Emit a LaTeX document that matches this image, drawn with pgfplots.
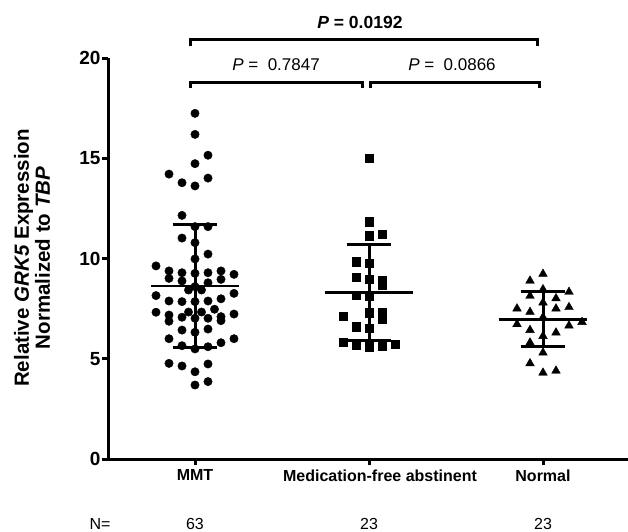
\documentclass[border=0pt]{standalone}
\usepackage{pgfplots}
\pgfplotsset{compat=1.18}
\usepackage{pgfplotstable}
\usepackage{fontspec}
\setmainfont{Liberation Sans}

% column index k (offset of the dot from the group centre) and value
\pgfplotstableread{
k v
0 17.24
0 16.19
1 15.15
0 14.73
-2 14.21
1 14.01
-1 13.78
0 13.62
-1 12.15
0 11.59
1 11.59
-1 11.02
0 10.79
1 10.22
0 9.98
-3 9.63
-2 9.38
-1 9.29
0 9.26
1 9.29
2 9.38
3 9.21
-2 9.01
-1 8.88
1 8.79
2 8.96
-0.5 8.43
0.5 8.43
-3 8.15
3 8.26
-2 7.88
-1 7.85
0 7.85
1 7.88
2 7.99
-3 7.32
-2 7.18
-0.5 7.33
0.5 7.33
1.5 7.47
3 7.23
-1 7.07
0 7.02
1 7.02
2 7.10
-2 6.87
2 6.90
-1 6.43
0 6.32
1 6.48
-2 6.00
3 6.00
2 5.80
-1 5.65
0 5.49
1 5.60
-2 4.77
-1 4.64
1 4.74
0 4.35
0 3.69
1 3.86
0 8.60
}\mmt

\pgfplotstableread{
k v
0 15.01
0 11.84
0 11.14
1 11.22
-1 9.84
0 9.76
-1 9.06
0 8.96
1 8.93
1 8.66
-1 8.16
0 8.13
-2 7.13
0 7.30
1 7.32
1 7.00
-1 6.60
0 6.52
-2 5.82
-1 5.70
0 5.60
1 5.65
2 5.74
}\abstinent

\pgfplotstableread{
k v
0 9.23
0 8.46
0 7.80
0 7.07
0 6.13
0 5.30
0 4.30
-1 8.89
-1 8.13
-1 7.33
-1 6.43
-1 5.80
-1 4.77
-2 7.50
-2 6.72
1 8.01
1 7.50
1 6.30
1 4.40
2 8.33
2 7.57
2 6.65
3 6.83
}\normal

\begin{document}
\begin{tikzpicture}
\useasboundingbox (-108pt,-72pt) rectangle (520pt,459pt);
\begin{axis}[
    at={(0,0)}, anchor=south west,
    scale only axis,
    width=522pt, height=401pt,
    xmin=0.5, xmax=3.5,
    ymin=0, ymax=20,
    axis x line=bottom, axis y line=left,
    axis line style={line width=3pt, -},
    xtick={1,2,3},
    xticklabels={MMT, \hspace*{22pt}Medication-free abstinent, Normal},
    ytick={0,5,10,15,20},
    tick align=outside,
    major tick length=6pt,
    tick style={line width=3pt, black},
    /pgf/number format/assume math mode=true,
    yticklabel style={font=\fontsize{19}{19}\selectfont\bfseries, xshift=2pt},
    xticklabel style={font=\fontsize{16}{16}\selectfont\bfseries, yshift=-1pt},
    clip=false,
]
\addplot[only marks, mark=*, mark size=4.2pt, color=black]
    table[x expr=1+\thisrow{k}*0.0747, y=v] {\mmt};
\addplot[only marks, mark=square*, mark size=4.2pt, color=black]
    table[x expr=2+\thisrow{k}*0.0747, y=v] {\abstinent};
\addplot[only marks, mark=triangle*, mark size=5pt, color=black]
    table[x expr=3+\thisrow{k}*0.0747, y=v] {\normal};

% mean and SD lines
\addplot[black, line width=2.5pt] coordinates {(0.745,8.64) (1.255,8.64)};
\addplot[black, line width=3pt] coordinates {(1,5.57) (1,11.70)};
\addplot[black, line width=3pt] coordinates {(0.872,11.70) (1.128,11.70)};
\addplot[black, line width=3pt] coordinates {(0.872,5.57) (1.128,5.57)};

\addplot[black, line width=2.5pt] coordinates {(1.745,8.31) (2.255,8.31)};
\addplot[black, line width=3pt] coordinates {(2,5.92) (2,10.71)};
\addplot[black, line width=3pt] coordinates {(1.872,10.71) (2.128,10.71)};
\addplot[black, line width=3pt] coordinates {(1.872,5.92) (2.128,5.92)};

\addplot[black, line width=2.5pt] coordinates {(2.745,6.97) (3.255,6.97)};
\addplot[black, line width=3pt] coordinates {(3,5.60) (3,8.35)};
\addplot[black, line width=3pt] coordinates {(2.872,8.35) (3.128,8.35)};
\addplot[black, line width=3pt] coordinates {(2.872,5.60) (3.128,5.60)};

% significance brackets
\draw[line width=3pt] (axis cs:0.977,20.58) -- (axis cs:0.977,20.9) -- (axis cs:2.966,20.9) -- (axis cs:2.966,20.58);
\draw[line width=3pt] (axis cs:0.977,18.48) -- (axis cs:0.977,18.8) -- (axis cs:1.96,18.8) -- (axis cs:1.96,18.48);
\draw[line width=3pt] (axis cs:2.011,18.48) -- (axis cs:2.011,18.8) -- (axis cs:2.977,18.8) -- (axis cs:2.977,18.48);
\node[font=\fontsize{17.5}{17.5}\selectfont\bfseries] at (axis cs:1.948,21.75) {\textit{P} = 0.0192};
\node[font=\fontsize{17}{17}\selectfont] at (axis cs:1.466,19.65) {\textit{P} =\ \ 0.7847};
\node[font=\fontsize{17}{17}\selectfont] at (axis cs:2.477,19.65) {\textit{P} =\ \ 0.0866};

% sample sizes
\node[font=\fontsize{16}{16}\selectfont] at (axis cs:0.454,-3.22) {N=};
\node[font=\fontsize{16}{16}\selectfont] at (axis cs:1,-3.22) {63};
\node[font=\fontsize{16}{16}\selectfont] at (axis cs:2,-3.22) {23};
\node[font=\fontsize{16}{16}\selectfont] at (axis cs:3,-3.22) {23};
\end{axis}
\node[rotate=90, align=center, font=\fontsize{20.5}{21}\selectfont\bfseries] at (-76pt,201pt)
    {Relative \textit{GRK5} Expression\\Normalized to \textit{TBP}};
\end{tikzpicture}
\end{document}
